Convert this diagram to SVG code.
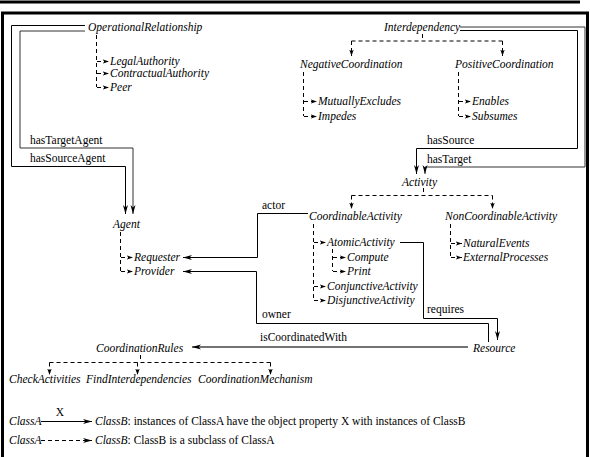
<svg xmlns="http://www.w3.org/2000/svg" width="590" height="457" viewBox="0 0 590 457">
<defs>
<style>
text{font-family:"Liberation Serif","Times New Roman",serif;font-size:11.5px;fill:#000}
.c{font-style:italic}
.ln{fill:none;stroke:#000;stroke-width:1}
.gr{fill:none;stroke:#333;stroke-width:1}
.d{fill:none;stroke:#000;stroke-width:1;stroke-dasharray:4 3}
</style>
<marker id="arr" markerUnits="userSpaceOnUse" markerWidth="10" markerHeight="6" refX="9" refY="2.5" orient="auto"><path d="M0,0 L9,2.5 L0,5 L2.5,2.5 z" fill="#000"/></marker>
<marker id="sub" markerUnits="userSpaceOnUse" markerWidth="8" markerHeight="6" refX="6.5" refY="2.25" orient="auto"><path d="M0,0 L6.5,2.25 L0,4.5 L1.8,2.25 z" fill="#000"/></marker>
</defs>
<rect width="590" height="457" fill="#fff"/>
<line x1="0" y1="2" x2="580" y2="2" stroke="#000" stroke-width="3"/>
<rect x="2.5" y="13" width="585" height="460" fill="none" stroke="#000" stroke-width="3"/>

<g id="connectors">
<path class="ln" d="M85 25.5 H11.5 V166.5 H125.5 V214" marker-end="url(#arr)"/>
<path class="gr" d="M85 31 H20 V148 H133 V214" marker-end="url(#arr)"/>
<path class="ln" d="M460 30.5 H577.5 V148.5 H416.5 V174" marker-end="url(#arr)"/>
<path class="gr" d="M460 27 H585 V167 H425 V174" marker-end="url(#arr)"/>
<path class="ln" d="M308 213.5 H257.5 V257.5 H183" marker-end="url(#arr)"/>
<path class="ln" d="M488.5 342 V323.5 H256.5 V271.5 H183" marker-end="url(#arr)"/>
<path class="ln" d="M400 242.5 H423.5 V318.5 H497.5 V340" marker-end="url(#arr)"/>
<path fill="none" stroke="#444" stroke-width="1.6" d="M468 347 H192" marker-end="url(#arr)"/>

<path class="d" d="M96.5 35 V87"/>
<path class="d" d="M97 61.5 H109" marker-end="url(#sub)"/>
<path class="d" d="M97 73.5 H109" marker-end="url(#sub)"/>
<path class="d" d="M97 87.5 H109" marker-end="url(#sub)"/>

<path class="d" d="M422.5 34 V41"/>
<path class="d" d="M351.5 41 H502.5"/>
<path class="d" d="M351.5 41 V56" marker-end="url(#sub)"/>
<path class="d" d="M502.5 41 V56" marker-end="url(#sub)"/>

<path class="d" d="M303.5 72 V116"/>
<path class="d" d="M304 101.5 H317" marker-end="url(#sub)"/>
<path class="d" d="M304 116.5 H317" marker-end="url(#sub)"/>
<path class="d" d="M458.5 72 V116"/>
<path class="d" d="M459 101.5 H471" marker-end="url(#sub)"/>
<path class="d" d="M459 116.5 H471" marker-end="url(#sub)"/>

<path class="d" d="M423.5 188 V195"/>
<path class="d" d="M351.5 195.5 H492.5"/>
<path class="d" d="M351.5 195.5 V209" marker-end="url(#sub)"/>
<path class="d" d="M492.5 195.5 V209" marker-end="url(#sub)"/>

<path class="d" d="M313.5 224 V300"/>
<path class="d" d="M314 242.5 H326" marker-end="url(#sub)"/>
<path class="d" d="M314 286.5 H326" marker-end="url(#sub)"/>
<path class="d" d="M314 300.5 H326" marker-end="url(#sub)"/>
<path class="d" d="M332.5 249 V271"/>
<path class="d" d="M333 257.5 H346" marker-end="url(#sub)"/>
<path class="d" d="M333 271.5 H346" marker-end="url(#sub)"/>

<path class="d" d="M450.5 224 V257"/>
<path class="d" d="M451 243.5 H462" marker-end="url(#sub)"/>
<path class="d" d="M451 257.5 H462" marker-end="url(#sub)"/>

<path class="d" d="M120.5 232 V271"/>
<path class="d" d="M121 257.5 H133" marker-end="url(#sub)"/>
<path class="d" d="M121 271.5 H133" marker-end="url(#sub)"/>

<path class="d" d="M140.5 355 V362"/>
<path class="d" d="M49.5 362.5 H270.5"/>
<path class="d" d="M49.5 362.5 V375" marker-end="url(#sub)"/>
<path class="d" d="M137.5 362.5 V375" marker-end="url(#sub)"/>
<path class="d" d="M270.5 362.5 V375" marker-end="url(#sub)"/>

<text x="30" y="144">hasTargetAgent</text>
<text x="30" y="162">hasSourceAgent</text>
<text x="427" y="144">hasSource</text>
<text x="427" y="163">hasTarget</text>
<text x="262" y="209">actor</text>
<text x="262" y="318">owner</text>
<text x="427" y="313">requires</text>
<text x="260" y="341">isCoordinatedWith</text>
</g>

<g id="OperationalRelationship"><text class="c" x="88" y="31">OperationalRelationship</text></g>
<g id="LegalAuthority"><text class="c" x="110" y="64.5">LegalAuthority</text></g>
<g id="ContractualAuthority"><text class="c" x="110" y="77">ContractualAuthority</text></g>
<g id="Peer"><text class="c" x="110" y="91">Peer</text></g>
<g id="Interdependency"><text class="c" x="384" y="31">Interdependency</text></g>
<g id="NegativeCoordination"><text class="c" x="300" y="68">NegativeCoordination</text></g>
<g id="PositiveCoordination"><text class="c" x="455" y="68">PositiveCoordination</text></g>
<g id="MutuallyExcludes"><text class="c" x="318" y="105">MutuallyExcludes</text></g>
<g id="Impedes"><text class="c" x="318" y="120">Impedes</text></g>
<g id="Enables"><text class="c" x="472" y="105">Enables</text></g>
<g id="Subsumes"><text class="c" x="472" y="120">Subsumes</text></g>
<g id="Activity"><text class="c" x="402" y="186">Activity</text></g>
<g id="CoordinableActivity"><text class="c" x="309" y="220">CoordinableActivity</text></g>
<g id="NonCoordinableActivity"><text class="c" x="445" y="220">NonCoordinableActivity</text></g>
<g id="AtomicActivity"><text class="c" x="327" y="246">AtomicActivity</text></g>
<g id="Compute"><text class="c" x="347" y="261">Compute</text></g>
<g id="Print"><text class="c" x="347" y="275">Print</text></g>
<g id="ConjunctiveActivity"><text class="c" x="327" y="290">ConjunctiveActivity</text></g>
<g id="DisjunctiveActivity"><text class="c" x="327" y="304">DisjunctiveActivity</text></g>
<g id="NaturalEvents"><text class="c" x="463" y="247">NaturalEvents</text></g>
<g id="ExternalProcesses"><text class="c" x="463" y="261">ExternalProcesses</text></g>
<g id="Agent"><text class="c" x="113" y="228">Agent</text></g>
<g id="Requester"><text class="c" x="134" y="261">Requester</text></g>
<g id="Provider"><text class="c" x="134" y="275">Provider</text></g>
<g id="Resource"><text class="c" x="473" y="352">Resource</text></g>
<g id="CoordinationRules"><text class="c" x="96" y="352">CoordinationRules</text></g>
<g id="CheckActivities"><text class="c" x="9" y="383">CheckActivities</text></g>
<g id="FindInterdependencies"><text class="c" x="86" y="383">FindInterdependencies</text></g>
<g id="CoordinationMechanism"><text class="c" x="198" y="383">CoordinationMechanism</text></g>

<g id="legend">
<text x="9" y="425"><tspan class="c">ClassA</tspan></text>
<path class="ln" d="M41 421.5 H92" marker-end="url(#arr)"/>
<text x="60" y="416" text-anchor="middle">X</text>
<text x="95" y="425"><tspan class="c">ClassB</tspan>: instances of ClassA have the object property X with instances of ClassB</text>
<text x="9" y="444"><tspan class="c">ClassA</tspan></text>
<path class="d" d="M41 440.5 H92" marker-end="url(#arr)"/>
<text x="95" y="444"><tspan class="c">ClassB</tspan>: ClassB is a subclass of ClassA</text>
</g>
</svg>
